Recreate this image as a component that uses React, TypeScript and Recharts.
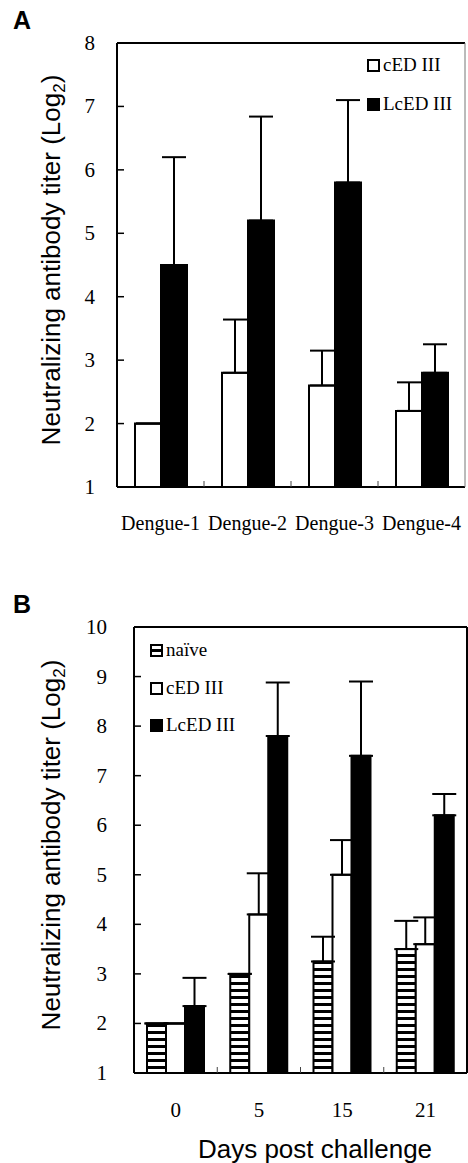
import React from 'react';
import { Bar, BarChart, ErrorBar, ReferenceLine, XAxis, YAxis } from 'recharts';

// Panel A: titers against the four serotypes
const serotypes = ['Dengue-1', 'Dengue-2', 'Dengue-3', 'Dengue-4'];
const cedTiterA = [2.0, 2.8, 2.6, 2.2];
const cedErrA = [0, 0.84, 0.55, 0.45];
const lcedTiterA = [4.5, 5.2, 5.8, 2.8];
const lcedErrA = [1.7, 1.64, 1.3, 0.45];
const yTicksA = [1, 2, 3, 4, 5, 6, 7, 8];

// Panel B: titers after challenge
const days = ['0', '5', '15', '21'];
const naiveTiterB = [2.0, 3.0, 3.25, 3.5];
const naiveErrB = [0, 0, 0.5, 0.57];
const cedTiterB = [2.0, 4.2, 5.0, 3.6];
const cedErrB = [0, 0.83, 0.7, 0.54];
const lcedTiterB = [2.35, 7.8, 7.4, 6.2];
const lcedErrB = [0.57, 1.08, 1.5, 0.43];
const yTicksB = [1, 2, 3, 4, 5, 6, 7, 8, 9, 10];

const dataA = serotypes.map((name, i) => ({
  name,
  ced: cedTiterA[i],
  cedErr: [0, cedErrA[i]],
  lced: lcedTiterA[i],
  lcedErr: [0, lcedErrA[i]],
}));

const dataB = days.map((name, i) => ({
  name,
  naive: naiveTiterB[i],
  naiveErr: [0, naiveErrB[i]],
  ced: cedTiterB[i],
  cedErr: [0, cedErrB[i]],
  lced: lcedTiterB[i],
  lcedErr: [0, lcedErrB[i]],
}));

const SERIF = '"Liberation Serif", "DejaVu Serif", serif';
const SANS = '"Liberation Sans", Arial, sans-serif';

const makeYTick = (gap: number) => (props: any) => {
  const { x, y, payload } = props;
  return (
    <g>
      <line x1={x} x2={x + 7} y1={y} y2={y} stroke="#000" strokeWidth={1.5} />
      <text x={x - gap} y={y} dy={7} textAnchor="end" fontFamily={SERIF} fontSize={21} fill="#000">
        {payload.value}
      </text>
    </g>
  );
};

const makeXTick = (bw: number, labelDy: number, fontSize: number) => (props: any) => {
  const { x, y, payload, index } = props;
  return (
    <g>
      {index > 0 && <line x1={x - bw / 2} x2={x - bw / 2} y1={y} y2={y - 6} stroke="#444" strokeWidth={1} />}
      <text x={x} y={y + labelDy} textAnchor="middle" fontFamily={SERIF} fontSize={fontSize} fill="#000">
        {payload.value}
      </text>
    </g>
  );
};

const Icon = ({ kind }: { kind: 'naive' | 'ced' | 'lced' }) => (
  <svg width={13} height={13} style={{ marginRight: 3, flex: 'none' }}>
    <rect x={1} y={1} width={11} height={11} fill={kind === 'lced' ? '#000' : '#fff'} stroke="#000" strokeWidth={2} />
    {kind === 'naive' && <rect x={1} y={5} width={11} height={3} fill="#000" />}
  </svg>
);

const LegendRow = ({ kind, label, left, top }: any) => (
  <div
    style={{
      position: 'absolute',
      left,
      top,
      display: 'flex',
      alignItems: 'center',
      height: 22,
      fontFamily: SERIF,
      fontSize: 19,
      color: '#000',
      whiteSpace: 'nowrap',
    }}
  >
    <Icon kind={kind} />
    <span>{label}</span>
  </div>
);

const axisLine = { stroke: '#000', strokeWidth: 2 };
const errProps = { stroke: '#000', strokeWidth: 2, width: 12, isAnimationActive: false };

export default function App() {
  return (
    <div style={{ position: 'absolute', left: 0, top: 0, width: 468, height: 1163, background: '#fff', overflow: 'hidden' }}>
      <svg width={0} height={0} style={{ position: 'absolute' }}>
        <defs>
          <pattern id="naiveHatch" patternUnits="userSpaceOnUse" width={8} height={7}>
            <rect width={8} height={7} fill="#fff" />
            <rect y={2} width={8} height={3} fill="#000" />
          </pattern>
        </defs>
      </svg>

      <div style={{ position: 'absolute', left: 0, top: 0 }}>
        <BarChart width={468} height={545} data={dataA} margin={{ top: 43, right: 0, bottom: 0, left: 0 }} barGap={0} barSize={26}>
          <XAxis dataKey="name" height={58} tickSize={0} tickMargin={0} axisLine={axisLine} tickLine={false} tick={makeXTick(87, 43, 20)} interval={0} />
          <YAxis domain={[1, 8]} ticks={yTicksA} width={117} tickSize={0} tickMargin={0} axisLine={axisLine} tickLine={false} tick={makeYTick(22)} allowDataOverflow />
          <YAxis yAxisId="r" orientation="right" domain={[1, 8]} width={3} tick={false} tickLine={false} axisLine={{ stroke: '#777', strokeWidth: 1 }} />
          <ReferenceLine y={8} stroke="#000" strokeWidth={2} />
          <Bar dataKey="ced" fill="#fff" stroke="#000" strokeWidth={2} isAnimationActive={false}>
            <ErrorBar dataKey="cedErr" direction="y" {...errProps} />
          </Bar>
          <Bar dataKey="lced" fill="#000" stroke="#000" strokeWidth={2} isAnimationActive={false}>
            <ErrorBar dataKey="lcedErr" direction="y" {...errProps} />
          </Bar>
        </BarChart>
      </div>

      <div style={{ position: 'absolute', left: 0, top: 560 }}>
        <BarChart width={468} height={603} data={dataB} margin={{ top: 67, right: 0, bottom: 0, left: 0 }} barGap={0} barSize={19}>
          <XAxis dataKey="name" height={90} tickSize={0} tickMargin={0} axisLine={axisLine} tickLine={false} tick={makeXTick(83.25, 44, 21)} interval={0} />
          <YAxis domain={[1, 10]} ticks={yTicksB} width={134} tickSize={0} tickMargin={0} axisLine={axisLine} tickLine={false} tick={makeYTick(27)} allowDataOverflow />
          <YAxis yAxisId="r" orientation="right" domain={[1, 10]} width={1} tick={false} tickLine={false} axisLine={axisLine} />
          <ReferenceLine y={10} stroke="#000" strokeWidth={2} />
          <Bar dataKey="naive" fill="url(#naiveHatch)" stroke="#000" strokeWidth={2} isAnimationActive={false}>
            <ErrorBar dataKey="naiveErr" direction="y" {...errProps} />
          </Bar>
          <Bar dataKey="ced" fill="#fff" stroke="#000" strokeWidth={2} isAnimationActive={false}>
            <ErrorBar dataKey="cedErr" direction="y" {...errProps} />
          </Bar>
          <Bar dataKey="lced" fill="#000" stroke="#000" strokeWidth={2} isAnimationActive={false}>
            <ErrorBar dataKey="lcedErr" direction="y" {...errProps} />
          </Bar>
        </BarChart>
      </div>

      <LegendRow kind="ced" label="cED III" left={367} top={54} />
      <LegendRow kind="lced" label="LcED III" left={367} top={93} />
      <LegendRow kind="naive" label="naïve" left={150} top={639} />
      <LegendRow kind="ced" label="cED III" left={150} top={677} />
      <LegendRow kind="lced" label="LcED III" left={150} top={714} />

      <svg width={468} height={1163} style={{ position: 'absolute', left: 0, top: 0, pointerEvents: 'none' }}>
        <text x={13} y={29} fontFamily={SANS} fontWeight="bold" fontSize={25} fill="#000">A</text>
        <text x={13} y={613} fontFamily={SANS} fontWeight="bold" fontSize={25} fill="#000">B</text>
        <text transform="translate(60,260) rotate(-90)" textAnchor="middle" fontFamily={SANS} fontSize={26} fill="#000">
          Neutralizing antibody titer (Log<tspan fontSize={17} dy={5}>2</tspan><tspan dy={-5}>)</tspan>
        </text>
        <text transform="translate(60,845) rotate(-90)" textAnchor="middle" fontFamily={SANS} fontSize={26} fill="#000">
          Neutralizing antibody titer (Log<tspan fontSize={17} dy={5}>2</tspan><tspan dy={-5}>)</tspan>
        </text>
        <text x={315} y={1158} textAnchor="middle" fontFamily={SANS} fontSize={26} fill="#000">Days post challenge</text>
      </svg>
    </div>
  );
}
